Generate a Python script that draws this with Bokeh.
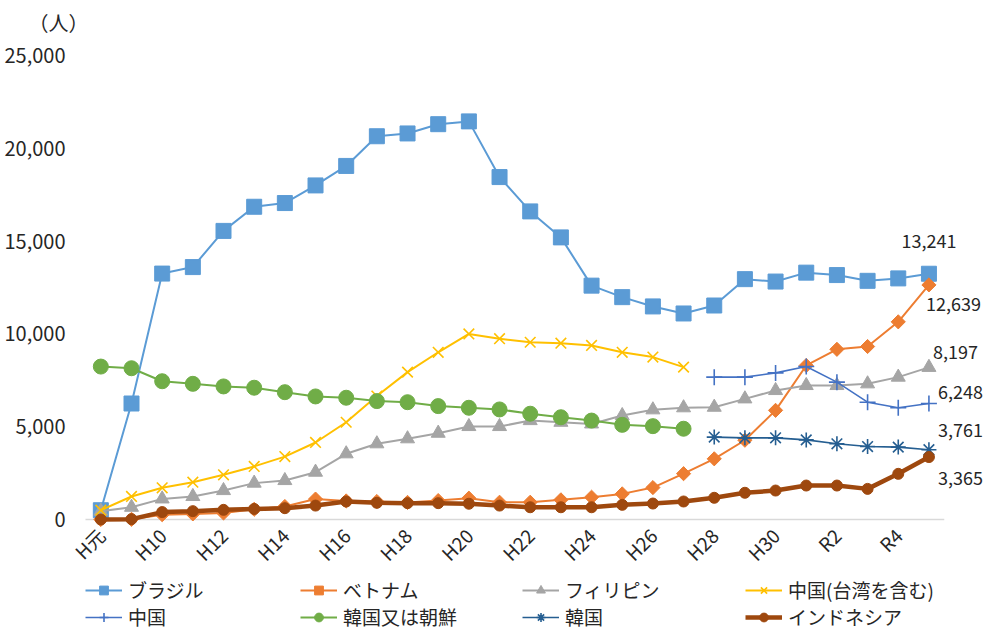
import math
from bokeh.plotting import figure
from bokeh.models import (ColumnDataSource, Range1d, FixedTicker, NumeralTickFormatter,
                          Legend, LegendItem, Label)
from bokeh.embed import file_html
from bokeh.resources import INLINE

NAN = float("nan")

categories = ["H元", "H9", "H10", "H11", "H12", "H13", "H14", "H15", "H16", "H17",
              "H18", "H19", "H20", "H21", "H22", "H23", "H24", "H25", "H26", "H27",
              "H28", "H29", "H30", "R1", "R2", "R3", "R4", "R5"]

brazil = [500, 6250, 13250, 13600, 15550, 16850, 17050, 18000, 19050, 20650, 20800, 21300,
          21450, 18450, 16600, 15200, 12600, 11980, 11480, 11100, 11530, 12950, 12820,
          13300, 13170, 12860, 12990, 13241]
vietnam = [0, 10, 260, 300, 350, 550, 700, 1100, 1000, 970, 920, 1020, 1150, 930, 930,
           1060, 1200, 1380, 1720, 2470, 3270, 4270, 5880, 8300, 9170, 9320, 10650, 12639]
philippines = [450, 660, 1110, 1240, 1560, 1960, 2100, 2550, 3540, 4080, 4350, 4650, 5010,
               5010, 5330, 5240, 5150, 5600, 5910, 6020, 6050, 6500, 6950, 7220, 7220,
               7310, 7670, 8197]
china_tw = [500, 1240, 1710, 2010, 2410, 2860, 3390, 4150, 5240, 6650, 7940, 9010, 10000,
            9740, 9550, 9500, 9380, 9010, 8750, 8210,
            None, None, None, None, None, None, None, None]
china = [None] * 20 + [7670, 7670, 7900, 8240, 7400, 6320, 6020, 6248]
korea_nk = [8240, 8150, 7450, 7310, 7170, 7100, 6860, 6630, 6560, 6380, 6320, 6110, 6020,
            5930, 5700, 5510, 5330, 5100, 5030, 4890,
            None, None, None, None, None, None, None, None]
korea = [None] * 20 + [4440, 4400, 4400, 4290, 4080, 3930, 3900, 3761]
indonesia = [0, 20, 400, 450, 520, 570, 610, 750, 970, 900, 880, 880, 850, 750, 660, 660,
             660, 790, 860, 970, 1170, 1440, 1560, 1830, 1830, 1650, 2460, 3365]

series_names = ["ブラジル", "ベトナム", "フィリピン", "中国(台湾を含む)",
                "中国", "韓国又は朝鮮", "韓国", "インドネシア"]
y_ticks = [0, 5000, 10000, 15000, 20000, 25000]
unit_label = "（人）"

FONT = "Noto Sans CJK JP"
TXT = "#262626"

# canvas / plot-area geometry (pixels)
W, H = 987, 630
AREA_LEFT = 85          # left edge of the category area
AREA_TOP, AREA_BOTTOM = 55, 519
PX_PER_CAT = 30.67
n = len(categories)
y_max = y_ticks[-1]
px_per_val = (AREA_BOTTOM - AREA_TOP) / y_max

x_start = -0.5 - AREA_LEFT / PX_PER_CAT
x_end = -0.5 + (W - AREA_LEFT) / PX_PER_CAT
y_start = -(H - AREA_BOTTOM) / px_per_val
y_end = y_max + AREA_TOP / px_per_val

p = figure(width=W, height=H, output_backend="svg", toolbar_location=None,
           title_location=None,
           x_range=Range1d(x_start, x_end), y_range=Range1d(y_start, y_end),
           min_border_left=0, min_border_right=0, min_border_top=0, min_border_bottom=0)
p.outline_line_color = None
p.xgrid.visible = False
p.ygrid.visible = False
p.background_fill_color = "white"
p.border_fill_color = "white"

xs = list(range(n))


def clean(vals):
    return [NAN if v is None else v for v in vals]


styles = [
    dict(data=brazil, color="#5B9BD5", lw=2, marker="square", size=15, angle=0, fill=True, mlw=1),
    dict(data=vietnam, color="#ED7D31", lw=2, marker="square", size=10, angle=math.pi / 4, fill=True, mlw=1),
    dict(data=philippines, color="#A5A5A5", lw=2, marker="triangle", size=14, angle=0, fill=True, mlw=1),
    dict(data=china_tw, color="#FFC000", lw=2, marker="x", size=15, angle=0, fill=False, mlw=1.6),
    dict(data=china, color="#4472C4", lw=1.6, marker="cross", size=16, angle=0, fill=False, mlw=1.6),
    dict(data=korea_nk, color="#70AD47", lw=2, marker="circle", size=15, angle=0, fill=True, mlw=1),
    dict(data=korea, color="#255E91", lw=1.6, marker="asterisk", size=15, angle=0, fill=False, mlw=1.6),
    dict(data=indonesia, color="#9E480E", lw=4.5, marker="circle", size=11, angle=0, fill=True, mlw=1),
]

# x-axis baseline across the category span
p.segment(x0=[-0.5], x1=[n - 0.5], y0=[0], y1=[0], line_color="#D9D9D9", line_width=1.5)

items = []
for name, st in zip(series_names, styles):
    src = ColumnDataSource(dict(x=xs, y=clean(st["data"])))
    lr = p.line("x", "y", source=src, line_color=st["color"], line_width=st["lw"])
    sr = p.scatter("x", "y", source=src, marker=st["marker"], size=st["size"], angle=st["angle"],
                   line_color=st["color"], line_width=st["mlw"],
                   fill_color=st["color"] if st["fill"] else None)
    items.append(LegendItem(label=name, renderers=[lr, sr]))

# axes pinned to the value 0 / left category edge
p.xaxis.fixed_location = 0
p.xaxis.ticker = FixedTicker(ticks=list(range(0, n, 2)))
p.xaxis.major_label_overrides = {i: categories[i] for i in range(0, n, 2)}
p.xaxis.major_label_orientation = math.pi / 4
p.xaxis.axis_line_color = None
p.xaxis.major_tick_line_color = None
p.xaxis.minor_tick_line_color = None
p.xaxis.major_label_text_font = FONT
p.xaxis.major_label_text_font_size = "19px"
p.xaxis.major_label_text_color = TXT
p.xaxis.major_label_standoff = 6

p.yaxis.fixed_location = -0.5
p.yaxis.ticker = FixedTicker(ticks=y_ticks)
p.yaxis.formatter = NumeralTickFormatter(format="0,0")
p.yaxis.axis_line_color = None
p.yaxis.major_tick_line_color = None
p.yaxis.minor_tick_line_color = None
p.yaxis.major_label_text_font = FONT
p.yaxis.major_label_text_font_size = "20px"
p.yaxis.major_label_text_color = TXT
p.yaxis.major_label_standoff = 14

# unit label
p.add_layout(Label(x=28, y=H - 22, x_units="screen", y_units="screen", text=unit_label,
                   text_font=FONT, text_font_size="20px", text_color=TXT,
                   text_align="left", text_baseline="middle"))

# end-value labels
end_series = [brazil, vietnam, philippines, china, korea, indonesia]
end_offsets = [(0, 33, "center"), (-3, -19, "left"), (4, 15, "left"),
               (9, 12, "left"), (9, 20, "left"), (9, -21, "left")]
for vals, (dx, dy, al) in zip(end_series, end_offsets):
    v = vals[-1]
    p.add_layout(Label(x=xs[-1], y=v, text=f"{v:,}", x_offset=dx, y_offset=dy,
                       text_font=FONT, text_font_size="18px", text_color=TXT,
                       text_align=al, text_baseline="middle"))

# legends: 4 columns x 2 rows
col_x = [85, 300, 522, 745]
for c in range(4):
    leg = Legend(items=[items[c], items[c + 4]], location=(col_x[c], 0),
                 orientation="vertical", padding=0, margin=0, spacing=0,
                 glyph_width=37, glyph_height=22, label_height=22, label_standoff=6,
                 label_text_font=FONT, label_text_font_size="19px",
                 label_text_color=TXT, border_line_color=None,
                 background_fill_alpha=0)
    p.add_layout(leg, "center")

open("out.html", "w").write(file_html(p, INLINE))
